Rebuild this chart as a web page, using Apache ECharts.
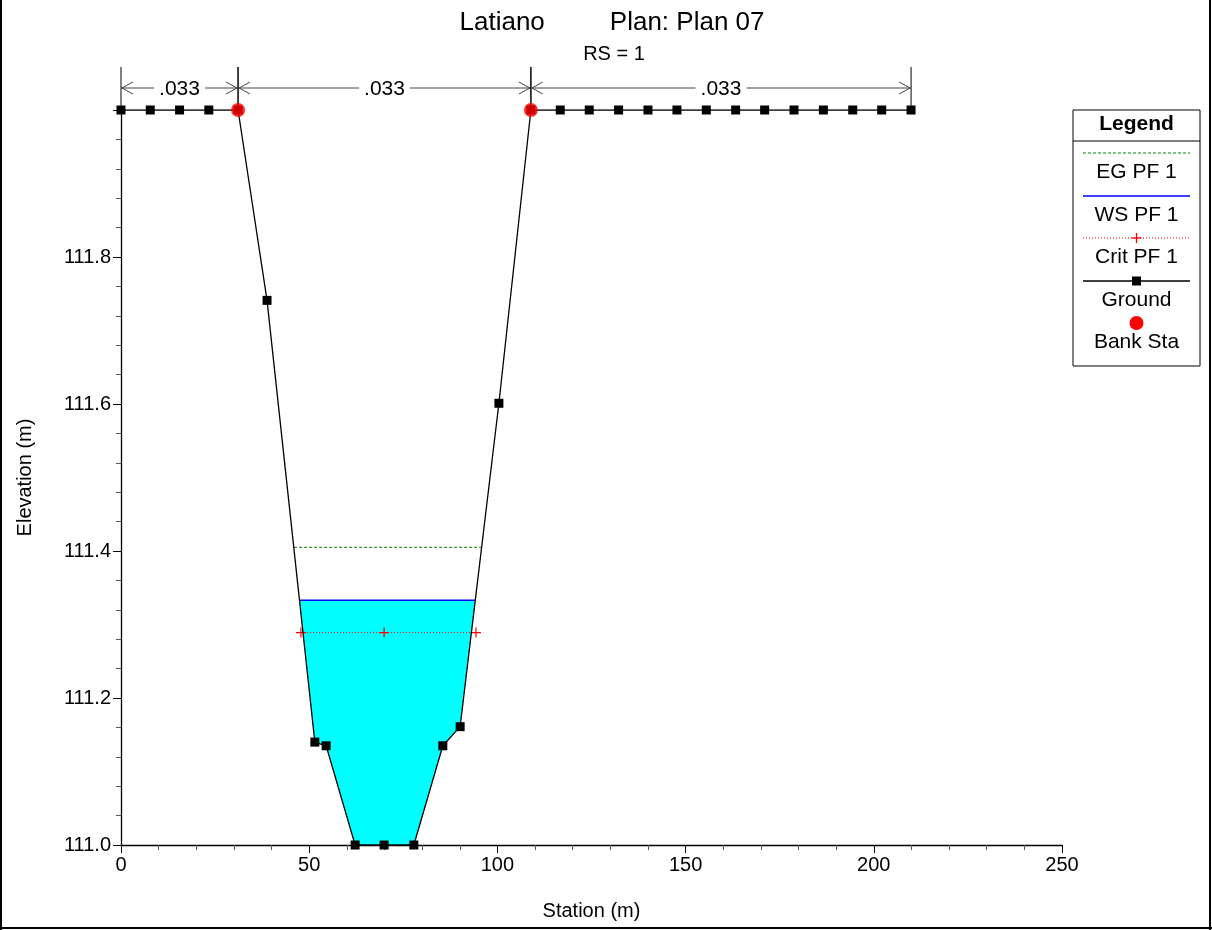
<!DOCTYPE html>
<html>
<head>
<meta charset="utf-8">
<script src="https://cdn.jsdelivr.net/npm/echarts@6/dist/echarts.min.js"></script>
<style>html,body{margin:0;padding:0;background:#fff;}#c{width:1212px;height:930px;}</style>
</head>
<body>
<div id="c"></div>
<script>
// ---- data ----
var groundStation = [0, 7.78, 15.56, 23.33, 31.1, 38.8, 51.5, 54.5, 62.2, 69.9, 77.8, 85.5, 90.1, 100.4, 108.9,
  116.7, 124.4, 132.2, 140.0, 147.7, 155.5, 163.3, 171.0, 178.8, 186.6, 194.4, 202.1, 209.9];
var groundElev = [112.0, 112.0, 112.0, 112.0, 112.0, 111.741, 111.140, 111.135, 111.0, 111.0, 111.0, 111.135, 111.161, 111.601, 112.0,
  112.0, 112.0, 112.0, 112.0, 112.0, 112.0, 112.0, 112.0, 112.0, 112.0, 112.0, 112.0, 112.0];
var bankStation = [31.1, 108.9];
var bankElev = [112.0, 112.0];
var egStation = [46.0, 95.9];
var egElev = 111.405;
var wsStation = [47.4, 94.1];
var wsElev = 111.333;
var critStation = [47.8, 69.9, 94.3];
var critElev = 111.289;
var nStart = [0, 31.1, 108.9];
var nEnd = [31.1, 108.9, 209.9];
var nValue = ['.033', '.033', '.033'];
var xTicks = [0, 50, 100, 150, 200, 250];
var yTicks = [111.0, 111.2, 111.4, 111.6, 111.8];

var FONT = '"Liberation Sans", Arial, sans-serif';

var groundData = groundStation.map(function (s, i) { return [s, groundElev[i]]; });
var bankData = bankStation.map(function (s, i) { return [s, bankElev[i]]; });
var egData = egStation.map(function (s) { return [s, egElev]; });
var wsData = wsStation.map(function (s) { return [s, wsElev]; });
var critData = critStation.map(function (s) { return [s, critElev]; });
var nData = nStart.map(function (s, i) { return [s, nEnd[i], nValue[i]]; });

var chart = echarts.init(document.getElementById('c'), null, {renderer: 'canvas'});

function waterItem(params, api) {
  var pts = [api.coord([wsStation[0], wsElev])];
  for (var i = 0; i < groundStation.length; i++) {
    if (groundStation[i] > wsStation[0] && groundStation[i] < wsStation[1] && groundElev[i] < wsElev) {
      pts.push(api.coord([groundStation[i], groundElev[i]]));
    }
  }
  pts.push(api.coord([wsStation[1], wsElev]));
  return {type: 'polygon', shape: {points: pts}, style: {fill: '#00ffff', stroke: null}};
}

function nItem(params, api) {
  var x1 = api.value(0), x2 = api.value(1), label = nValue[params.dataIndex];
  var p1 = api.coord([x1, 112.0]);
  var p2 = api.coord([x2, 112.0]);
  var yA = p1[1] - 22;
  var children = [];
  var lineStyle = {stroke: '#000', lineWidth: 1};
  var arrowStyle = {stroke: '#444', lineWidth: 1, fill: null};
  children.push({type: 'line', shape: {x1: p1[0], y1: p1[1] - 43, x2: p1[0], y2: p1[1]}, style: lineStyle});
  children.push({type: 'line', shape: {x1: p2[0], y1: p2[1] - 43, x2: p2[0], y2: p2[1]}, style: lineStyle});
  children.push({type: 'line', shape: {x1: p1[0], y1: yA, x2: p2[0], y2: yA}, style: arrowStyle});
  children.push({type: 'polyline', shape: {points: [[p1[0] + 12, yA - 6], [p1[0] + 1, yA], [p1[0] + 12, yA + 6]]}, style: arrowStyle});
  children.push({type: 'polyline', shape: {points: [[p2[0] - 12, yA - 6], [p2[0] - 1, yA], [p2[0] - 12, yA + 6]]}, style: arrowStyle});
  children.push({type: 'text', x: (p1[0] + p2[0]) / 2, y: yA + 1,
    style: {text: label, fill: '#000', font: '21px ' + FONT, align: 'center', verticalAlign: 'middle',
      backgroundColor: '#fff', padding: [0, 5]}});
  return {type: 'group', children: children};
}

var plusPath = 'path://M4.4,0H5.6V4.4H10V5.6H5.6V10H4.4V5.6H0V4.4H4.4Z';

// legend graphic
var LX = 1073, LY = 110, LW = 127, LH = 256;
var lcx = LX + LW / 2;
var LF = '21px ' + FONT;
var legendChildren = [
  {type: 'rect', shape: {x: LX, y: LY, width: LW, height: LH}, style: {fill: '#fff', stroke: '#000', lineWidth: 1}},
  {type: 'text', x: lcx, y: 124, style: {text: 'Legend', font: 'bold 21px ' + FONT, fill: '#000', align: 'center', verticalAlign: 'middle'}},
  {type: 'line', shape: {x1: LX, y1: 141, x2: LX + LW, y2: 141}, style: {stroke: '#000', lineWidth: 1}},
  {type: 'line', shape: {x1: LX + 10, y1: 153, x2: LX + LW - 10, y2: 153}, style: {stroke: '#008000', lineWidth: 1, lineDash: [3, 2]}},
  {type: 'text', x: lcx, y: 172, style: {text: 'EG PF 1', font: LF, fill: '#000', align: 'center', verticalAlign: 'middle'}},
  {type: 'line', shape: {x1: LX + 10, y1: 196, x2: LX + LW - 10, y2: 196}, style: {stroke: '#0000ff', lineWidth: 1.5}},
  {type: 'text', x: lcx, y: 215, style: {text: 'WS PF 1', font: LF, fill: '#000', align: 'center', verticalAlign: 'middle'}},
  {type: 'line', shape: {x1: LX + 10, y1: 238, x2: LX + LW - 10, y2: 238}, style: {stroke: '#ff0000', lineWidth: 1, lineDash: [1, 2]}},
  {type: 'line', shape: {x1: lcx - 5, y1: 238, x2: lcx + 5, y2: 238}, style: {stroke: '#ff0000', lineWidth: 1.3}},
  {type: 'line', shape: {x1: lcx, y1: 233, x2: lcx, y2: 243}, style: {stroke: '#ff0000', lineWidth: 1.3}},
  {type: 'text', x: lcx, y: 257, style: {text: 'Crit PF 1', font: LF, fill: '#000', align: 'center', verticalAlign: 'middle'}},
  {type: 'line', shape: {x1: LX + 10, y1: 281, x2: LX + LW - 10, y2: 281}, style: {stroke: '#000', lineWidth: 1.3}},
  {type: 'rect', shape: {x: lcx - 4.5, y: 276.5, width: 9, height: 9}, style: {fill: '#000'}},
  {type: 'text', x: lcx, y: 300, style: {text: 'Ground', font: LF, fill: '#000', align: 'center', verticalAlign: 'middle'}},
  {type: 'circle', shape: {cx: lcx, cy: 323, r: 7}, style: {fill: '#ff0000'}},
  {type: 'text', x: lcx, y: 342, style: {text: 'Bank Sta', font: LF, fill: '#000', align: 'center', verticalAlign: 'middle'}}
];

var option = {
  backgroundColor: '#fff',
  animation: false,
  textStyle: {fontFamily: FONT},
  title: [
    {text: 'Latiano         Plan: Plan 07', left: 607, top: 5, textAlign: 'center',
      textStyle: {fontSize: 26, fontWeight: 'normal', color: '#000', fontFamily: FONT}},
    {text: 'RS = 1', left: 609, top: 39, textAlign: 'center',
      textStyle: {fontSize: 20, fontWeight: 'normal', color: '#000', fontFamily: FONT}}
  ],
  grid: {left: 121, right: 150, top: 110, bottom: 85, containLabel: false},
  xAxis: {
    type: 'value', min: xTicks[0], max: xTicks[xTicks.length - 1], interval: 50,
    name: 'Station (m)', nameLocation: 'middle', nameGap: 56,
    nameTextStyle: {fontSize: 20, color: '#000', fontFamily: FONT},
    axisLine: {show: true, onZero: false, lineStyle: {color: '#000', width: 1.3}},
    axisTick: {show: true, length: 8, lineStyle: {color: '#000'}},
    minorTick: {show: true, splitNumber: 5, length: 5, lineStyle: {color: '#555'}},
    axisLabel: {fontSize: 20, color: '#000', margin: 10, fontFamily: FONT},
    splitLine: {show: false}
  },
  yAxis: {
    type: 'value', min: 111.0, max: 112.0, interval: 0.2,
    name: 'Elevation (m)', nameLocation: 'middle', nameGap: 86,
    nameTextStyle: {fontSize: 20, color: '#000', fontFamily: FONT},
    axisLine: {show: true, onZero: false, lineStyle: {color: '#000', width: 1.3}},
    axisTick: {show: true, length: 8, lineStyle: {color: '#000'}},
    minorTick: {show: true, splitNumber: 5, length: 5, lineStyle: {color: '#555'}},
    axisLabel: {fontSize: 20, color: '#000', margin: 10, fontFamily: FONT,
      formatter: function (v) { return v > 111.95 ? '' : v.toFixed(1); }},
    splitLine: {show: false}
  },
  series: [
    {type: 'custom', name: 'water', renderItem: waterItem, data: [[wsStation[0], wsElev]], z: 1, silent: true},
    {type: 'line', name: 'EG PF 1', data: egData, showSymbol: false, symbol: 'none', z: 3,
      lineStyle: {color: '#008000', width: 1, type: [3, 2]}},
    {type: 'line', name: 'WS PF 1', data: wsData, showSymbol: false, symbol: 'none', z: 3,
      lineStyle: {color: '#0000ff', width: 1.5}},
    {type: 'line', name: 'Crit PF 1', data: critData, symbol: plusPath, symbolSize: 10, showSymbol: true, z: 3,
      itemStyle: {color: '#ff0000'}, lineStyle: {color: '#ff0000', width: 1, type: [1, 2]}},
    {type: 'line', name: 'Ground', data: groundData, symbol: 'rect', symbolSize: 9, showSymbol: true, z: 4,
      itemStyle: {color: '#000'}, lineStyle: {color: '#000', width: 1.3}},
    {type: 'scatter', name: 'Bank Sta', data: bankData, symbol: 'circle', symbolSize: 14, z: 5,
      itemStyle: {color: '#ff0000'}},
    {type: 'custom', name: 'n', renderItem: nItem, data: nData, z: 3, clip: false, silent: true}
  ],
  graphic: [
    {type: 'group', children: legendChildren},
    {type: 'rect', shape: {x: 0, y: 0, width: 2, height: 930}, style: {fill: '#000'}},
    {type: 'rect', shape: {x: 1209, y: 0, width: 2, height: 930}, style: {fill: '#000'}},
    {type: 'rect', shape: {x: 0, y: 927, width: 1212, height: 2}, style: {fill: '#000'}}
  ]
};
chart.setOption(option);
</script>
</body>
</html>
